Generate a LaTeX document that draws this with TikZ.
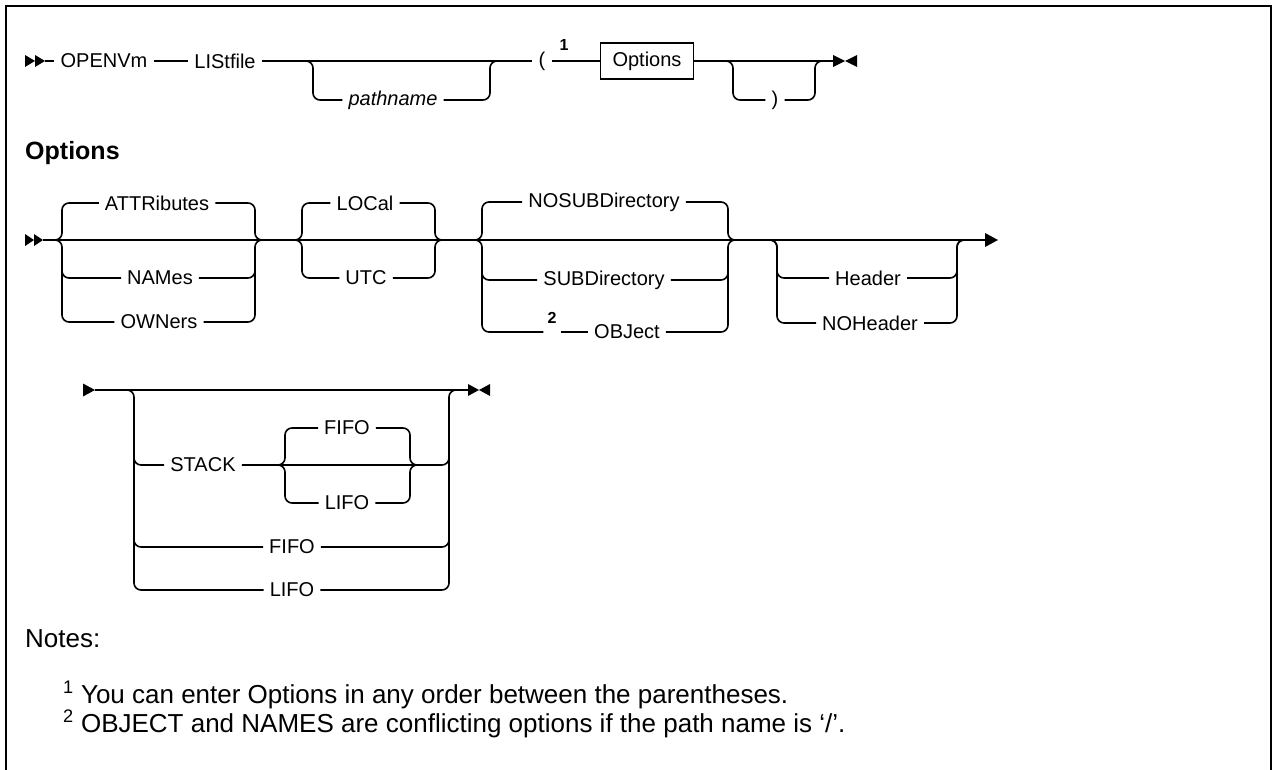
\documentclass[tikz,border=0pt]{standalone}
\usepackage{fontspec}
\setmainfont{Liberation Sans}
\usetikzlibrary{calc}
\tikzset{
  rail/.style={line width=1.6pt, rounded corners=7pt},
  kw/.style={inner xsep=6pt, inner ysep=3pt, font=\fontsize{20}{24}\selectfont},
  var/.style={kw, font=\fontsize{20}{24}\selectfont\itshape},
  fnum/.style={inner sep=0pt, font=\fontsize{16}{18}\selectfont\bfseries},
  note/.style={anchor=base west, inner sep=0pt, font=\fontsize{26}{30}\selectfont}
}

\begin{document}
\begin{tikzpicture}[x=1pt, y=-1pt]
\useasboundingbox (0,0) rectangle (1273,770);
% frame
\draw[line width=2pt] (6,770) -- (6,6) -- (1271,6) -- (1271,770);

% first line: OPENVm LIStfile
\fill (25,55) -- (35,61) -- (25,67) -- cycle;
\fill (35,55) -- (45,61) -- (35,67) -- cycle;
\coordinate (s1) at (45,61);
\node[kw] (openvm) at (104,61) {OPENVm};
\node[kw] (listfile) at (225,61) {LIStfile};
\node[var] (pathname) at (393,100) {pathname};
\node[kw] (lparen) at (542,61) {(};
\node[fnum] (fn1) at (564,45) {1};
\node[draw, line width=1.6pt, inner sep=0pt, minimum width=93pt, minimum height=36pt,
      font=\fontsize{20}{24}\selectfont] (optbox) at (647,61) {Options};
\node[kw] (rparen) at (775,100) {)};
\coordinate (e1) at (833,61);
\draw[rail] (s1) -- (openvm);
\draw[rail] (openvm) -- (listfile);
\draw[rail] (listfile) -- (lparen);
\draw[rail] (303,61) -- (313,61) |- (pathname);
\draw[rail] (pathname) -| (490,61) -- (500,61);
\draw[rail] (lparen) -- (optbox);
\draw[rail] (optbox) -- (e1);
\draw[rail] (723,61) -- (733,61) |- (rparen);
\draw[rail] (rparen) -| (815,61) -- (825,61);
\fill (833,55) -- (845,61) -- (833,67) -- cycle;
\fill (857,55) -- (845,61) -- (857,67) -- cycle;

% Options fragment
\node[anchor=west, inner sep=0pt, font=\fontsize{25}{28}\selectfont\bfseries] (opthead) at (25,153) {Options};
\fill (25,234) -- (34,240) -- (25,246) -- cycle;
\fill (34,234) -- (43,240) -- (34,246) -- cycle;
\coordinate (s2) at (43,240);
\coordinate (e2) at (985,240);
\draw[rail] (s2) -- (e2);
\fill (985,233) -- (998,240) -- (985,247) -- cycle;

% ATTRibutes / NAMes / OWNers
\node[kw] (attr) at (157,203) {ATTRibutes};
\node[kw] (names) at (160,278) {NAMes};
\node[kw] (owners) at (159,322) {OWNers};
\draw[rail] (52,240) -- (62,240) |- (attr);
\draw[rail] (52,240) -- (62,240) |- (owners);
\draw[rail] (62,262) |- (names);
\draw[rail] (attr) -| (255,240) -- (265,240);
\draw[rail] (owners) -| (255,240) -- (265,240);
\draw[rail] (names) -| (255,262);

% LOCal / UTC
\node[kw] (local) at (365,203) {LOCal};
\node[kw] (utc) at (366,278) {UTC};
\draw[rail] (292,240) -- (302,240) |- (local);
\draw[rail] (292,240) -- (302,240) |- (utc);
\draw[rail] (local) -| (435,240) -- (445,240);
\draw[rail] (utc) -| (435,240) -- (445,240);

% NOSUBDirectory / SUBDirectory / OBJect
\node[kw] (nosub) at (604,202) {NOSUBDirectory};
\node[kw] (subdir) at (604,280) {SUBDirectory};
\node[kw] (object) at (627,332) {OBJect};
\node[fnum] (fn2) at (552,318) {2};
\draw[rail] (472,240) -- (482,240) |- (nosub);
\draw[rail] (472,240) -- (482,240) |- ([xshift=-4pt]fn2.west |- object);
\draw[rail] ([xshift=4pt]fn2.east |- object) -- (object);
\draw[rail] (482,262) |- (subdir);
\draw[rail] (nosub) -| (728,240) -- (738,240);
\draw[rail] (object) -| (728,240) -- (738,240);
\draw[rail] (subdir) -| (728,262);

% Header / NOHeader
\node[kw] (header) at (868,278) {Header};
\node[kw] (noheader) at (870,323) {NOHeader};
\draw[rail] (767,240) -- (777,240) |- (header);
\draw[rail] (767,240) -- (777,240) |- (noheader);
\draw[rail] (header) -| (957,240) -- (967,240);
\draw[rail] (noheader) -| (957,240) -- (967,240);

% STACK / FIFO / LIFO
\fill (83,383.5) -- (95,390) -- (83,396.5) -- cycle;
\coordinate (s3) at (95,390);
\coordinate (e3) at (468,390);
\draw[rail] (s3) -- (e3);
\fill (468,384) -- (479,390) -- (468,396) -- cycle;
\fill (490,384) -- (479,390) -- (490,396) -- cycle;
\node[kw] (stack) at (203,465) {STACK};
\node[kw] (sfifo) at (347,428) {FIFO};
\node[kw] (slifo) at (347,503) {LIFO};
\node[kw] (fifo) at (292,547) {FIFO};
\node[kw] (lifo) at (292,590) {LIFO};
\draw[rail] (124,390) -- (134,390) |- (lifo);
\draw[rail] (134,440) |- (stack);
\draw[rail] (134,520) |- (fifo);
\draw[rail] (275,465) -- (285,465) |- (sfifo);
\draw[rail] (275,465) -- (285,465) |- (slifo);
\draw[rail] (sfifo) -| (410,465) -- (420,465);
\draw[rail] (slifo) -| (410,465) -- (420,465);
\draw[rail] (stack) -| (449,440);
\draw[rail] (fifo) -| (449,520);
\draw[rail] (lifo) -| (449,390) -- (459,390);

% notes
\node[note] (notes) at (25,647) {Notes:};
\node[note] (note1) at (63,703) {\textsuperscript{1} You can enter Options in any order between the parentheses.};
\node[note] (note2) at (63,732) {\textsuperscript{2} OBJECT and NAMES are conflicting options if the path name is ‘/’.};
\end{tikzpicture}
\end{document}
